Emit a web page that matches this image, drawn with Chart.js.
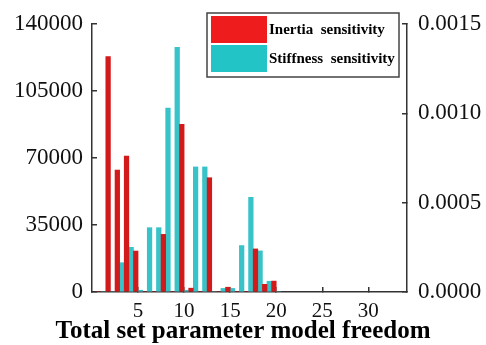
<!DOCTYPE html>
<html>
<head>
<meta charset="utf-8">
<script src="https://cdn.jsdelivr.net/npm/chart.js@4.4.0/dist/chart.umd.min.js"></script>
<style>
  html, body { margin:0; padding:0; background:#fff; }
</style>
</head>
<body>
<canvas id="chart1" width="486" height="345"></canvas>
<script>
//....data
const dof = [1,2,3,4,5,6,7,8,9,10,11,12,13,14,15,16,17,18,19,20];
const inertia = [0,123000,63700,71000,21400,0,0,30100,0,87600,2000,0,59700,0,2500,0,0,22500,4000,5700];
const stiffness = [0,0,0.000164,0.00025,0.00001,0.00036,0.00036,0.00103,0.00137,0.00001,0.0007,0.0007,0,0.00002,0.00002,0.00026,0.00053,0.00023,0.00006,0];
const leftTicks = [0,35000,70000,105000,140000];
const rightTicks = [0,0.0005,0.0010,0.0015];
const xTicks = [5,10,15,20,25,30];

const serif = "'Liberation Serif', 'Times New Roman', serif";
const axisColor = "#333";

//....legend box drawn inside the plot
const boxLegend = {
  id: "boxLegend",
  afterDraw(chart){
    const ctx = chart.ctx;
    const x = 207, y = 13, w = 192, h = 64;
    ctx.save();
    ctx.fillStyle = "#fff";
    ctx.fillRect(x, y, w, h);
    ctx.strokeStyle = "#444";
    ctx.lineWidth = 1.5;
    ctx.strokeRect(x, y, w, h);
    chart.data.datasets.forEach(function(ds, i){
      const sy = y + 3 + i * 29;
      ctx.fillStyle = ds.legendColor;
      ctx.fillRect(x + 4, sy, 56, 27);
      ctx.fillStyle = "#000";
      ctx.font = "bold 15px " + serif;
      ctx.textBaseline = "middle";
      ctx.textAlign = "left";
      ctx.fillText(ds.label, x + 62, sy + 14);
    });
    ctx.restore();
  }
};

// vertical axes: fixed width, no extra label padding above/below the plot
function fixY(width){
  return function(s){
    s.width = width;
    s.paddingTop = 0;
    s.paddingBottom = 0;
  };
}

new Chart(document.getElementById("chart1"), {
  type: "bar",
  data: {
    labels: dof,
    datasets: [
      {
        label: "Inertia  sensitivity",
        data: dof.map((d, i) => ({x: d, y: inertia[i]})),
        backgroundColor: "#d21a1a",
        legendColor: "#ee1c1c",
        yAxisID: "y",
        categoryPercentage: 1,
        barPercentage: 1
      },
      {
        label: "Stiffness  sensitivity",
        data: dof.map((d, i) => ({x: d, y: stiffness[i]})),
        backgroundColor: "#38c3c8",
        legendColor: "#22c4c6",
        yAxisID: "y2",
        categoryPercentage: 1,
        barPercentage: 1
      }
    ]
  },
  options: {
    responsive: false,
    animation: false,
    layout: { padding: { top: 24, left: 0, right: 0, bottom: 0 } },
    plugins: {
      legend: { display: false },
      tooltip: { enabled: false },
      title: {
        display: true,
        position: "bottom",
        text: "Total set parameter model freedom",
        color: "#000",
        padding: { top: 0, bottom: 1 },
        font: { family: serif, size: 25, weight: "bold", lineHeight: 1 }
      }
    },
    scales: {
      x: {
        type: "linear",
        offset: false,
        min: 0,
        max: 34.2,
        afterBuildTicks: s => { s.ticks = xTicks.map(v => ({value: v})); },
        afterFit: s => { s.height = 27; s.paddingLeft = 0; s.paddingRight = 0; },
        grid: { drawOnChartArea: false, offset: false, tickLength: -5, color: axisColor, lineWidth: 1.5 },
        border: { color: axisColor, width: 1.5 },
        ticks: { color: "#111", padding: 12, font: { family: serif, size: 21 } }
      },
      y: {
        position: "left",
        min: 0,
        max: 140000,
        afterBuildTicks: s => { s.ticks = leftTicks.map(v => ({value: v})); },
        afterFit: fixY(92),
        grid: { drawOnChartArea: false, tickLength: -5, color: axisColor, lineWidth: 1.5 },
        border: { color: axisColor, width: 1.5 },
        ticks: { color: "#111", padding: 14, font: { family: serif, size: 23 }, callback: v => String(v) }
      },
      y2: {
        position: "right",
        min: 0,
        max: 0.0015,
        afterBuildTicks: s => { s.ticks = rightTicks.map(v => ({value: v})); },
        afterFit: fixY(79),
        grid: { drawOnChartArea: false, tickLength: -5, color: axisColor, lineWidth: 1.5 },
        border: { color: axisColor, width: 1.5 },
        ticks: {
          color: "#111", padding: 16, font: { family: serif, size: 23 },
          callback: v => v.toFixed(4)
        }
      }
    }
  },
  plugins: [boxLegend]
});
</script>
</body>
</html>
